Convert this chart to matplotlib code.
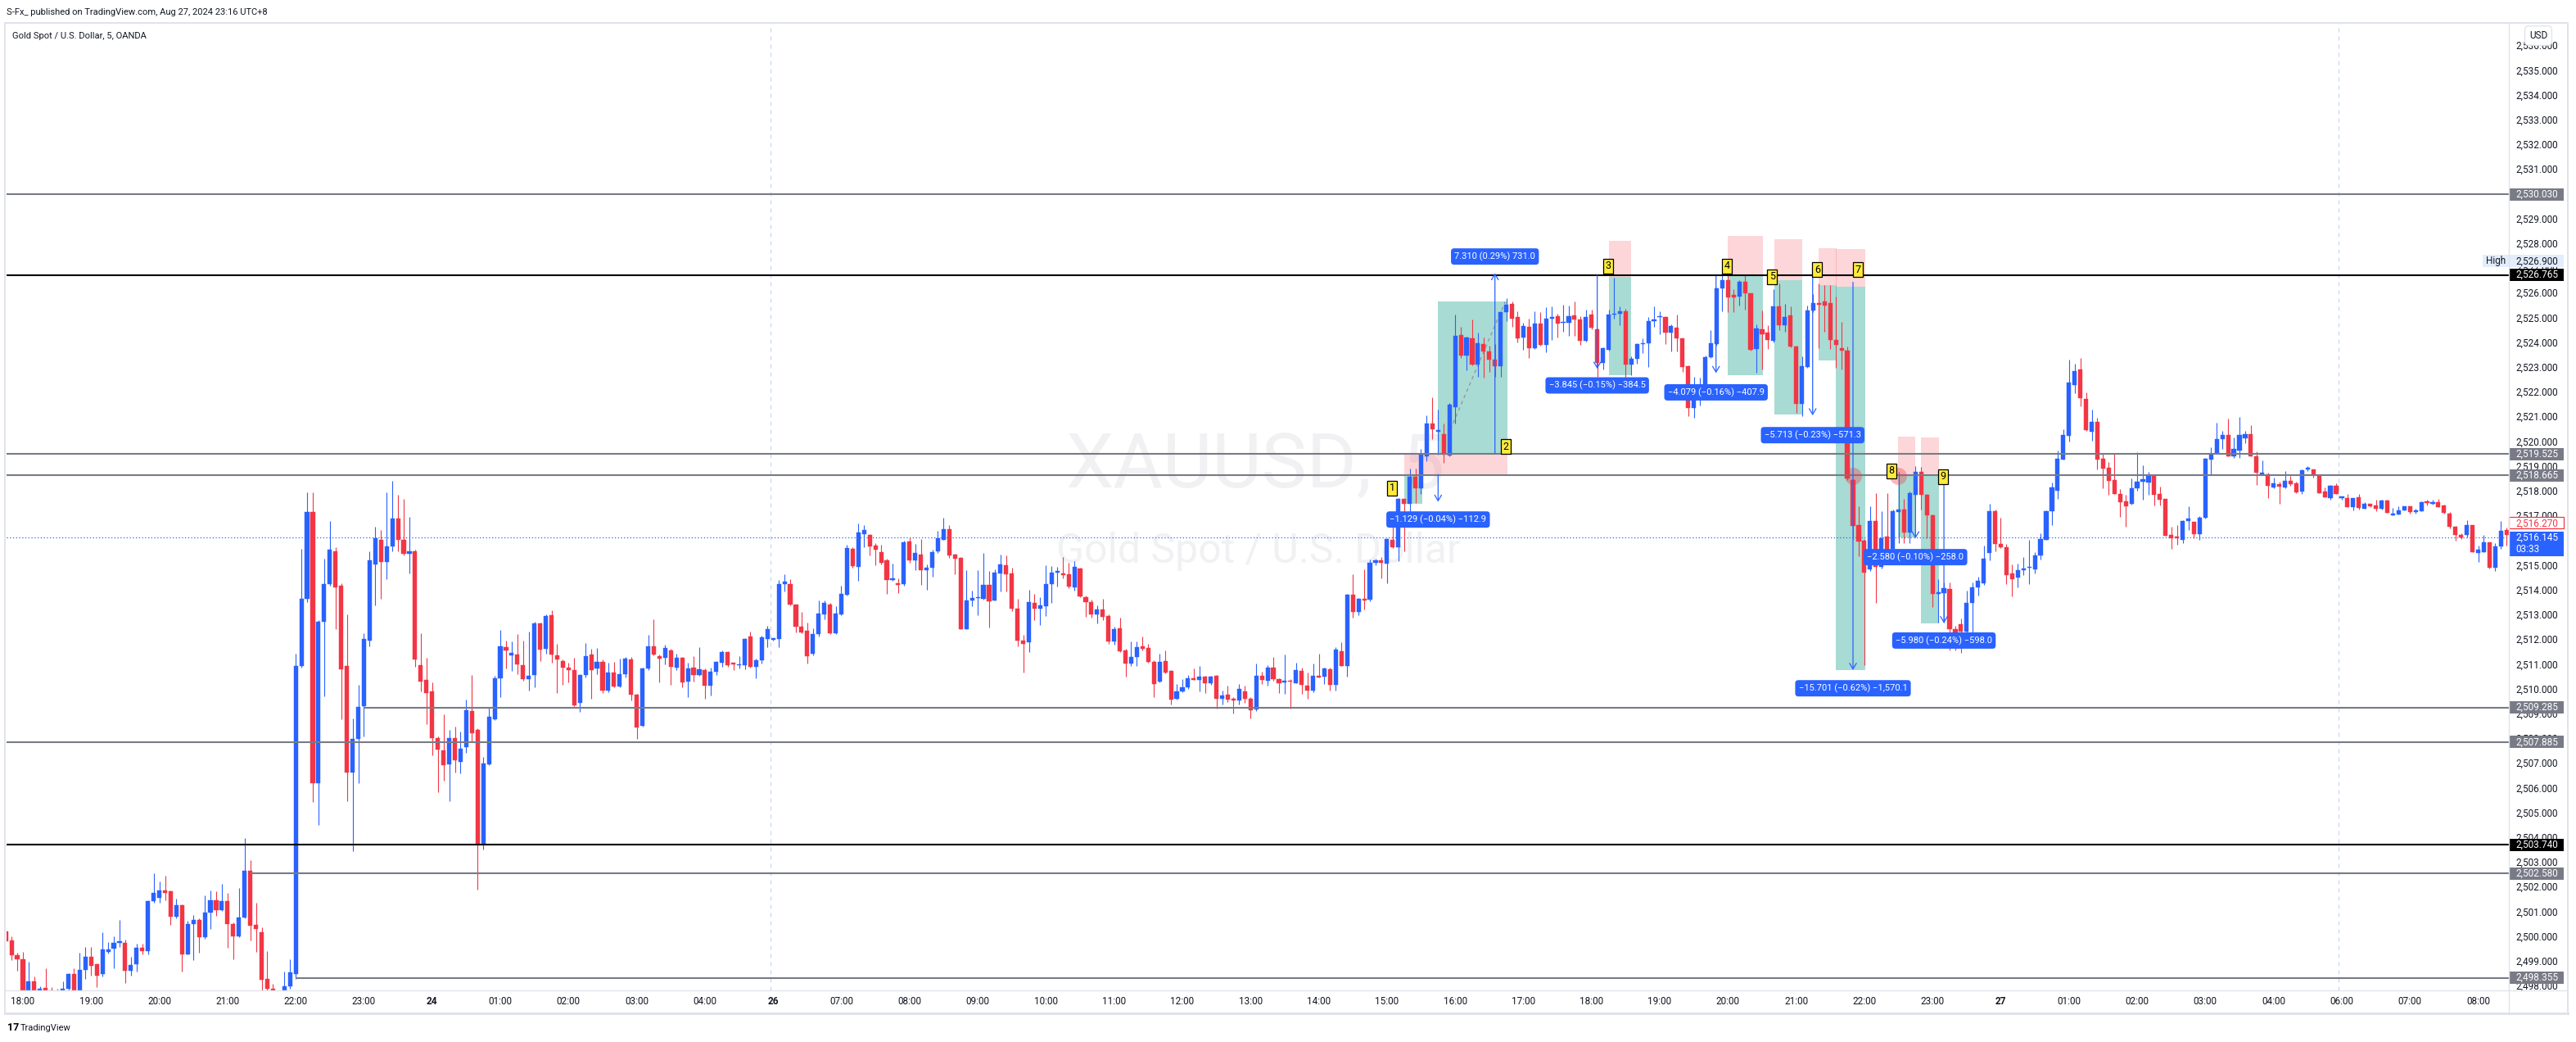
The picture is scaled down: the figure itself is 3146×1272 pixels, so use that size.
import matplotlib
matplotlib.use("Agg")
import matplotlib.pyplot as plt
from matplotlib.patches import Rectangle
from matplotlib.lines import Line2D

W, H, DPI = 3146, 1272, 100
plt.rcParams['font.family'] = ['Roboto', 'DejaVu Sans']

# ---------- XAUUSD 5m candles (bar 0 = Aug 23 18:00 UTC+8) ----------
first_bar = -3
opens = [
    2500.23, 2499.88, 2499.27,
    2499.10, 2497.70, 2498.20, 2497.80, 2497.95, 2497.85, 2497.70, 2497.50, 2497.90, 2498.50, 2497.80, 2498.67,
    2499.20, 2498.90, 2498.50, 2499.40, 2499.55, 2499.77, 2499.77, 2498.63, 2498.90, 2499.57, 2499.45, 2501.45,
    2501.60, 2501.90, 2501.87, 2500.82, 2501.29, 2499.30, 2500.52, 2500.70, 2500.00, 2501.00, 2501.48, 2501.10,
    2501.45, 2500.54, 2500.04, 2500.80, 2502.67, 2500.50, 2500.19, 2498.30, 2497.90, 2497.50, 2497.40, 2498.00,
    2498.50, 2510.96, 2513.68, 2517.19, 2506.23, 2512.76, 2514.26, 2515.58, 2514.19, 2510.96, 2506.65, 2508.00,
    2509.35, 2512.00, 2515.08, 2516.07, 2515.15, 2515.80, 2516.92, 2516.07, 2515.50, 2515.58, 2510.99, 2510.40,
    2509.93, 2508.04, 2507.55, 2507.00, 2508.04, 2507.10, 2507.67, 2509.13, 2508.37, 2503.76, 2507.00, 2508.80,
    2510.47, 2511.72, 2511.40, 2511.43, 2511.00, 2510.42, 2510.60, 2512.69, 2511.66, 2513.02, 2511.40, 2511.17,
    2510.90, 2510.81, 2509.47, 2510.60, 2511.43, 2510.85, 2511.14, 2509.96, 2510.68, 2510.13, 2510.63, 2511.24,
    2509.80, 2508.54, 2510.86, 2511.77, 2511.35, 2511.30, 2511.60, 2510.90, 2511.30, 2510.33, 2510.90, 2510.59,
    2510.81, 2510.16, 2510.74, 2511.08, 2511.53, 2511.06, 2511.00, 2511.00, 2512.16, 2510.92, 2511.20, 2512.06,
    2512.03, 2512.06, 2514.27, 2514.27, 2513.43, 2512.56, 2512.40, 2511.47, 2512.26, 2513.05, 2513.45, 2512.29,
    2513.05, 2513.83, 2515.70, 2514.97, 2516.29, 2516.25, 2515.82, 2515.56, 2515.23, 2514.44, 2514.27, 2514.27,
    2515.99, 2515.23, 2515.46, 2514.83, 2514.93, 2515.60, 2516.07, 2516.49, 2515.46, 2515.33, 2512.46, 2513.61,
    2513.71, 2513.68, 2514.24, 2513.61, 2514.70, 2515.03, 2514.70, 2513.28, 2511.99, 2511.92, 2513.50, 2513.29,
    2513.38, 2514.28, 2514.73, 2514.70, 2514.66, 2514.13, 2514.90, 2513.75, 2513.54, 2513.06, 2513.25, 2512.97,
    2511.96, 2512.49, 2511.60, 2511.06, 2511.33, 2511.76, 2511.70, 2511.14, 2510.32, 2511.16, 2510.76, 2509.64,
    2509.93, 2510.09, 2510.47, 2510.41, 2510.53, 2510.25, 2510.57, 2509.62, 2509.80, 2509.62, 2509.56, 2509.94,
    2509.65, 2509.20, 2510.57, 2510.38, 2510.88, 2510.43, 2510.30, 2510.38, 2510.28, 2510.76, 2510.15, 2509.96,
    2510.57, 2510.53, 2510.82, 2510.19, 2511.54, 2510.97, 2513.84, 2513.16, 2513.69, 2513.63, 2515.14, 2515.23,
    2515.10, 2516.06, 2515.75, 2517.70, 2517.50, 2518.62, 2518.15, 2519.44, 2520.76, 2520.42, 2520.32, 2519.46,
    2521.43, 2524.33, 2523.52, 2524.20, 2523.13, 2523.96, 2523.67, 2523.35, 2523.08, 2525.25, 2525.59, 2525.05,
    2524.24, 2524.68, 2523.80, 2524.80, 2523.95, 2525.00, 2525.10, 2524.83, 2524.83, 2525.12, 2524.95, 2524.10,
    2525.17, 2524.56, 2523.21, 2523.75, 2525.15, 2525.19, 2525.28, 2523.16, 2523.36, 2523.98, 2524.00, 2524.89,
    2525.07, 2525.07, 2524.45, 2524.62, 2524.19, 2523.07, 2521.39, 2521.97, 2522.30, 2523.45, 2523.98, 2526.21,
    2526.57, 2525.96, 2525.90, 2526.48, 2526.01, 2523.78, 2524.58, 2524.42, 2524.10, 2525.50, 2524.74, 2525.12,
    2523.87, 2521.56, 2523.05, 2525.33, 2525.63, 2525.68, 2525.63, 2524.13, 2523.82, 2523.72, 2518.47, 2516.67,
    2516.02, 2514.87, 2516.82, 2514.96, 2516.20, 2515.70, 2517.17, 2517.29, 2516.35, 2517.88, 2518.82, 2517.88,
    2517.06, 2513.87, 2513.90, 2514.08, 2512.46, 2512.64, 2512.34, 2513.52, 2514.13, 2514.29, 2515.52, 2517.23,
    2515.90, 2515.76, 2514.70, 2514.52, 2514.82, 2514.93, 2514.87, 2515.42, 2516.07, 2517.22, 2518.04, 2519.31,
    2520.26, 2522.33, 2522.93, 2521.77, 2520.43, 2520.84, 2519.33, 2518.97, 2518.47, 2517.91, 2517.61, 2517.51,
    2518.14, 2518.40, 2518.37, 2518.65, 2517.91, 2517.71, 2516.25, 2516.18, 2516.05, 2516.82, 2516.78, 2516.30,
    2516.95, 2519.31, 2519.55, 2520.12, 2520.29, 2519.44, 2519.66, 2520.15, 2520.32, 2519.42, 2518.72, 2518.72,
    2518.17, 2518.30, 2518.17, 2518.43, 2518.34, 2518.00, 2518.92, 2518.89, 2518.64, 2518.00, 2517.76, 2518.23,
    2517.74, 2517.74, 2517.38, 2517.77, 2517.33, 2517.50, 2517.45, 2517.32, 2517.65, 2517.06, 2517.10, 2517.26,
    2517.42, 2517.20, 2517.21, 2517.58, 2517.53, 2517.58, 2517.45, 2517.12, 2516.59, 2516.26, 2516.27, 2516.66,
    2515.52, 2515.57, 2515.95, 2514.95, 2515.81, 2516.45,
]
highs = [
    2500.40, 2500.04, 2499.37,
    2499.42, 2499.00, 2498.40, 2498.00, 2498.75, 2497.98, 2497.90, 2498.20, 2498.55, 2498.75, 2499.37, 2499.60,
    2499.60, 2498.95, 2500.20, 2499.80, 2500.04, 2500.70, 2499.90, 2499.20, 2499.75, 2499.75, 2501.50, 2502.60,
    2502.26, 2502.48, 2501.90, 2501.55, 2501.32, 2500.65, 2500.90, 2500.75, 2501.68, 2501.90, 2501.87, 2502.17,
    2501.80, 2500.60, 2502.00, 2504.02, 2503.12, 2501.40, 2500.40, 2499.45, 2498.10, 2497.80, 2498.60, 2499.10,
    2511.45, 2515.69, 2517.98, 2517.98, 2512.80, 2515.30, 2516.83, 2515.76, 2514.30, 2513.04, 2508.84, 2510.20,
    2512.30, 2515.60, 2516.60, 2516.45, 2517.98, 2518.44, 2517.87, 2517.70, 2516.98, 2515.65, 2512.30, 2511.30,
    2510.30, 2508.10, 2509.00, 2508.37, 2508.50, 2508.30, 2509.60, 2510.60, 2508.45, 2507.30, 2509.26, 2510.57,
    2512.43, 2512.00, 2511.96, 2512.26, 2512.00, 2512.36, 2512.75, 2512.72, 2513.05, 2513.22, 2511.86, 2511.24,
    2511.10, 2511.30, 2510.62, 2511.90, 2511.67, 2511.70, 2511.22, 2511.10, 2511.14, 2511.27, 2511.34, 2511.34,
    2509.85, 2510.90, 2512.23, 2512.85, 2511.43, 2511.83, 2511.67, 2511.47, 2511.34, 2511.10, 2511.37, 2511.73,
    2510.87, 2510.90, 2511.17, 2511.60, 2511.55, 2511.10, 2511.37, 2512.10, 2512.36, 2511.25, 2512.18, 2512.59,
    2512.08, 2514.43, 2514.67, 2514.47, 2513.45, 2513.15, 2512.72, 2512.49, 2513.61, 2513.61, 2513.50, 2513.38,
    2514.21, 2515.86, 2515.75, 2516.72, 2516.65, 2516.30, 2515.92, 2515.86, 2515.30, 2515.10, 2514.50, 2516.02,
    2516.16, 2515.89, 2516.09, 2515.07, 2515.66, 2516.42, 2516.95, 2516.65, 2515.50, 2515.38, 2514.83, 2514.01,
    2514.83, 2515.53, 2514.80, 2514.87, 2515.46, 2515.43, 2514.93, 2513.68, 2512.23, 2514.03, 2513.88, 2513.75,
    2515.04, 2514.99, 2514.97, 2515.36, 2515.14, 2515.21, 2514.95, 2513.80, 2513.65, 2513.40, 2513.69, 2513.06,
    2512.55, 2512.93, 2511.65, 2511.96, 2511.96, 2512.14, 2511.86, 2511.20, 2511.45, 2511.58, 2510.80, 2510.24,
    2510.43, 2510.60, 2510.85, 2510.97, 2510.56, 2510.56, 2510.60, 2509.96, 2510.15, 2509.70, 2510.24, 2510.15,
    2509.70, 2511.06, 2510.72, 2511.01, 2511.33, 2510.47, 2511.42, 2510.43, 2511.10, 2510.91, 2510.70, 2511.06,
    2511.45, 2510.91, 2510.91, 2511.71, 2511.92, 2513.86, 2514.66, 2513.70, 2514.86, 2515.27, 2515.30, 2515.36,
    2516.12, 2516.60, 2517.76, 2517.73, 2518.93, 2518.93, 2519.75, 2521.08, 2521.81, 2521.33, 2520.76, 2521.58,
    2525.18, 2524.68, 2524.28, 2524.96, 2524.45, 2524.24, 2523.92, 2523.98, 2525.30, 2525.82, 2525.69, 2525.31,
    2524.83, 2524.99, 2525.30, 2525.25, 2525.45, 2525.48, 2525.19, 2525.57, 2525.54, 2525.68, 2525.10, 2525.37,
    2525.37, 2524.60, 2523.84, 2525.37, 2526.66, 2525.48, 2525.40, 2523.48, 2524.01, 2524.19, 2525.07, 2525.48,
    2525.28, 2525.10, 2524.78, 2525.17, 2524.22, 2523.10, 2522.66, 2522.60, 2523.50, 2524.52, 2526.25, 2526.78,
    2526.80, 2526.19, 2526.54, 2526.78, 2526.04, 2524.78, 2525.33, 2524.72, 2526.20, 2526.43, 2525.60, 2525.48,
    2523.90, 2523.47, 2525.54, 2526.00, 2526.43, 2526.37, 2526.37, 2525.90, 2524.86, 2523.87, 2518.55, 2517.41,
    2516.10, 2517.41, 2517.94, 2517.23, 2517.94, 2517.30, 2518.82, 2517.70, 2518.00, 2519.04, 2519.00, 2517.90,
    2517.10, 2514.46, 2514.35, 2514.35, 2512.58, 2512.87, 2513.99, 2514.35, 2514.58, 2515.82, 2517.50, 2517.30,
    2516.94, 2515.90, 2515.05, 2515.09, 2515.35, 2516.06, 2515.57, 2516.33, 2517.26, 2518.37, 2519.66, 2520.52,
    2523.35, 2523.19, 2523.42, 2522.03, 2521.33, 2520.98, 2519.53, 2519.20, 2519.53, 2518.12, 2517.88, 2518.54,
    2519.59, 2519.07, 2518.81, 2518.71, 2518.21, 2517.71, 2516.60, 2516.66, 2516.85, 2517.42, 2516.78, 2517.02,
    2519.37, 2519.79, 2520.78, 2520.45, 2520.96, 2520.19, 2521.01, 2520.45, 2520.70, 2519.64, 2519.26, 2518.78,
    2518.58, 2518.41, 2518.83, 2518.64, 2518.41, 2518.91, 2519.05, 2518.89, 2518.69, 2518.17, 2518.28, 2518.36,
    2517.83, 2517.92, 2517.74, 2517.90, 2517.57, 2517.50, 2517.68, 2517.68, 2517.68, 2517.35, 2517.40, 2517.42,
    2517.42, 2517.33, 2517.60, 2517.68, 2517.68, 2517.71, 2517.49, 2517.18, 2516.63, 2516.34, 2516.85, 2516.66,
    2515.83, 2516.25, 2515.95, 2515.92, 2516.82, 2516.56,
]
lows = [
    2499.70, 2499.07, 2498.63,
    2497.60, 2497.50, 2497.50, 2497.60, 2497.60, 2497.50, 2497.30, 2497.30, 2497.70, 2497.60, 2497.70, 2498.30,
    2498.46, 2497.98, 2498.40, 2499.35, 2498.75, 2499.60, 2498.15, 2498.46, 2498.60, 2499.30, 2499.30, 2501.40,
    2501.40, 2501.50, 2500.50, 2500.76, 2498.60, 2499.30, 2499.07, 2499.36, 2499.95, 2500.33, 2500.85, 2501.05,
    2499.58, 2499.12, 2500.00, 2500.76, 2499.88, 2499.40, 2497.80, 2497.50, 2497.30, 2497.20, 2497.30, 2497.90,
    2498.30, 2510.90, 2513.54, 2505.48, 2504.54, 2509.75, 2514.20, 2512.46, 2508.80, 2505.51, 2503.47, 2506.23,
    2508.12, 2511.76, 2513.40, 2513.68, 2514.48, 2515.60, 2515.60, 2515.43, 2514.70, 2510.94, 2509.93, 2508.60,
    2507.35, 2505.86, 2506.34, 2505.50, 2506.65, 2506.62, 2507.45, 2507.87, 2501.93, 2503.54, 2506.95, 2508.76,
    2509.70, 2510.87, 2510.75, 2510.64, 2510.36, 2509.96, 2510.10, 2511.15, 2511.45, 2511.08, 2509.88, 2510.20,
    2510.30, 2509.33, 2509.10, 2510.50, 2509.63, 2510.64, 2509.87, 2509.90, 2510.10, 2510.10, 2510.50, 2509.57,
    2508.00, 2508.50, 2510.80, 2511.38, 2510.29, 2511.04, 2510.21, 2510.80, 2510.09, 2509.70, 2510.33, 2510.55,
    2509.63, 2509.76, 2510.60, 2510.92, 2510.92, 2510.79, 2510.85, 2510.82, 2510.90, 2510.45, 2511.07, 2511.73,
    2512.00, 2511.73, 2513.98, 2513.40, 2512.33, 2512.30, 2511.07, 2511.40, 2512.16, 2512.85, 2512.25, 2512.25,
    2513.00, 2513.80, 2514.93, 2514.41, 2515.76, 2515.43, 2515.03, 2515.07, 2513.88, 2514.40, 2513.90, 2514.22,
    2515.13, 2514.83, 2514.24, 2514.04, 2514.57, 2515.53, 2516.05, 2515.33, 2514.67, 2512.44, 2512.44, 2513.38,
    2513.02, 2513.65, 2512.52, 2513.60, 2513.98, 2513.98, 2513.18, 2511.77, 2510.68, 2511.53, 2512.80, 2512.61,
    2512.98, 2513.50, 2514.16, 2514.51, 2514.11, 2514.00, 2513.75, 2512.96, 2512.90, 2512.68, 2512.80, 2511.86,
    2511.83, 2511.52, 2510.53, 2510.97, 2510.97, 2511.60, 2511.10, 2509.71, 2510.30, 2510.65, 2509.40, 2509.60,
    2509.90, 2510.05, 2510.40, 2509.93, 2509.86, 2510.20, 2509.24, 2509.40, 2509.52, 2509.04, 2509.40, 2509.48,
    2508.83, 2509.15, 2510.24, 2510.15, 2510.38, 2509.88, 2509.85, 2509.24, 2510.25, 2509.84, 2509.65, 2509.90,
    2510.50, 2510.22, 2509.96, 2509.96, 2510.97, 2510.53, 2512.93, 2513.00, 2513.25, 2513.56, 2515.02, 2514.49,
    2514.32, 2515.73, 2515.20, 2515.60, 2517.16, 2517.54, 2517.92, 2519.25, 2520.13, 2519.50, 2519.18, 2519.44,
    2520.76, 2523.42, 2522.91, 2523.10, 2522.66, 2522.60, 2522.85, 2522.66, 2522.66, 2524.91, 2524.68, 2524.05,
    2523.73, 2523.42, 2523.77, 2523.90, 2523.63, 2524.13, 2524.25, 2524.48, 2524.30, 2524.30, 2523.93, 2524.07,
    2524.58, 2522.66, 2522.95, 2523.70, 2525.01, 2524.72, 2522.60, 2522.71, 2523.19, 2523.60, 2523.04, 2524.66,
    2524.36, 2523.98, 2523.66, 2523.66, 2522.83, 2521.06, 2520.98, 2521.50, 2522.25, 2523.42, 2523.90, 2525.28,
    2525.25, 2525.25, 2525.54, 2525.37, 2523.72, 2522.80, 2522.95, 2523.77, 2524.05, 2524.54, 2524.48, 2523.83,
    2521.18, 2521.06, 2523.00, 2525.25, 2523.80, 2524.48, 2523.77, 2523.00, 2522.95, 2518.47, 2516.10, 2515.40,
    2511.00, 2514.80, 2513.50, 2514.90, 2515.35, 2515.60, 2515.94, 2515.94, 2515.94, 2517.82, 2517.29, 2516.11,
    2513.34, 2512.70, 2512.70, 2511.58, 2511.58, 2511.50, 2512.10, 2512.23, 2513.81, 2514.25, 2515.23, 2515.58,
    2515.72, 2514.28, 2513.76, 2514.13, 2514.62, 2514.27, 2514.71, 2515.26, 2516.07, 2516.67, 2517.71, 2519.31,
    2520.02, 2522.00, 2521.44, 2520.45, 2520.08, 2518.91, 2518.15, 2517.88, 2517.90, 2517.00, 2516.60, 2517.48,
    2518.04, 2517.68, 2517.88, 2517.46, 2517.46, 2516.23, 2515.68, 2515.86, 2515.92, 2516.47, 2516.12, 2516.07,
    2516.91, 2518.69, 2519.55, 2519.74, 2519.44, 2519.38, 2519.37, 2519.97, 2519.42, 2518.28, 2518.72, 2517.76,
    2518.15, 2517.51, 2518.15, 2518.23, 2517.95, 2517.92, 2518.84, 2518.58, 2517.95, 2517.79, 2517.68, 2517.92,
    2517.68, 2517.38, 2517.26, 2517.30, 2517.33, 2517.37, 2517.21, 2517.28, 2517.16, 2517.06, 2517.10, 2517.26,
    2517.11, 2517.11, 2517.21, 2517.46, 2517.49, 2517.39, 2517.12, 2516.52, 2516.01, 2516.08, 2516.16, 2515.55,
    2515.18, 2515.57, 2514.91, 2514.80, 2515.68, 2515.83,
]
closes = [
    2499.82, 2499.27, 2499.10,
    2497.70, 2498.20, 2497.80, 2497.90, 2497.85, 2497.70, 2497.50, 2497.90, 2498.50, 2497.80, 2498.67, 2499.20,
    2498.84, 2498.43, 2499.50, 2499.50, 2499.77, 2499.85, 2498.63, 2498.88, 2499.57, 2499.45, 2501.45, 2501.79,
    2501.90, 2501.80, 2500.82, 2501.29, 2499.30, 2500.52, 2500.70, 2500.00, 2501.00, 2501.48, 2501.10, 2501.45,
    2500.54, 2500.02, 2500.79, 2502.67, 2500.48, 2500.34, 2498.29, 2497.90, 2497.50, 2497.40, 2498.00, 2498.58,
    2510.96, 2513.68, 2517.19, 2506.23, 2512.76, 2514.26, 2515.65, 2514.13, 2510.83, 2506.65, 2508.00, 2509.30,
    2512.05, 2515.22, 2516.11, 2515.15, 2515.80, 2516.92, 2516.07, 2515.48, 2515.60, 2511.23, 2510.33, 2509.88,
    2508.04, 2507.57, 2506.94, 2508.04, 2507.15, 2507.62, 2509.16, 2508.23, 2503.73, 2507.02, 2508.92, 2510.47,
    2511.75, 2511.60, 2511.50, 2511.04, 2510.42, 2510.57, 2512.69, 2511.61, 2512.99, 2511.41, 2511.24, 2510.89,
    2510.79, 2509.36, 2510.58, 2511.37, 2510.79, 2511.14, 2509.96, 2510.68, 2510.13, 2510.63, 2511.27, 2509.80,
    2508.48, 2510.86, 2511.77, 2511.41, 2511.26, 2511.69, 2510.92, 2511.30, 2510.29, 2510.87, 2510.59, 2510.84,
    2510.16, 2510.74, 2511.11, 2511.53, 2511.00, 2511.04, 2511.04, 2512.06, 2510.92, 2511.20, 2512.13, 2512.46,
    2512.05, 2514.27, 2514.37, 2513.43, 2512.54, 2512.33, 2511.37, 2512.26, 2513.08, 2513.51, 2512.29, 2513.08,
    2513.88, 2515.73, 2515.00, 2516.35, 2516.45, 2515.79, 2515.66, 2515.13, 2514.44, 2514.50, 2514.25, 2515.96,
    2515.23, 2515.53, 2514.83, 2514.93, 2515.56, 2516.12, 2516.49, 2515.43, 2515.30, 2512.46, 2513.61, 2513.71,
    2513.74, 2514.24, 2513.58, 2514.73, 2515.07, 2514.67, 2513.28, 2511.99, 2511.87, 2513.54, 2513.29, 2513.40,
    2514.28, 2514.73, 2514.80, 2514.65, 2514.16, 2514.98, 2513.79, 2513.54, 2513.06, 2513.25, 2512.96, 2511.96,
    2512.46, 2511.54, 2511.06, 2511.33, 2511.73, 2511.64, 2511.14, 2510.22, 2511.14, 2510.70, 2509.61, 2509.93,
    2510.09, 2510.47, 2510.41, 2510.53, 2510.25, 2510.53, 2509.62, 2509.77, 2509.60, 2509.56, 2510.03, 2509.65,
    2509.18, 2510.57, 2510.41, 2510.88, 2510.43, 2510.28, 2510.35, 2510.32, 2510.79, 2510.19, 2509.96, 2510.56,
    2510.50, 2510.85, 2510.19, 2511.61, 2510.97, 2513.85, 2513.16, 2513.69, 2513.60, 2515.14, 2515.23, 2515.14,
    2516.09, 2515.75, 2517.73, 2517.50, 2518.62, 2518.15, 2519.50, 2520.76, 2520.54, 2520.48, 2519.50, 2521.52,
    2524.30, 2523.52, 2524.24, 2523.13, 2524.01, 2523.67, 2523.35, 2523.08, 2525.25, 2525.56, 2524.99, 2524.21,
    2524.70, 2523.80, 2524.81, 2523.95, 2525.01, 2525.07, 2524.81, 2524.86, 2525.11, 2524.95, 2524.10, 2525.05,
    2524.62, 2523.21, 2523.80, 2525.15, 2525.19, 2525.31, 2523.16, 2523.36, 2523.98, 2524.00, 2524.89, 2524.95,
    2525.10, 2524.45, 2524.70, 2524.21, 2523.04, 2521.39, 2521.97, 2522.30, 2523.45, 2524.01, 2526.21, 2526.54,
    2525.86, 2525.86, 2526.48, 2526.01, 2523.75, 2524.60, 2524.36, 2524.15, 2525.50, 2524.74, 2525.07, 2523.87,
    2521.54, 2523.07, 2525.33, 2525.64, 2525.57, 2525.54, 2524.13, 2523.95, 2523.72, 2518.53, 2516.61, 2516.00,
    2514.72, 2516.82, 2514.96, 2516.11, 2515.40, 2517.23, 2517.29, 2516.35, 2517.94, 2518.82, 2517.88, 2517.06,
    2513.87, 2513.93, 2514.11, 2512.44, 2512.22, 2512.34, 2513.52, 2514.13, 2514.40, 2515.31, 2517.23, 2515.88,
    2515.76, 2514.64, 2514.46, 2514.84, 2514.90, 2514.95, 2515.42, 2516.08, 2517.22, 2518.17, 2519.33, 2520.29,
    2522.40, 2522.89, 2521.78, 2520.48, 2520.84, 2519.31, 2518.94, 2518.45, 2517.90, 2517.59, 2517.43, 2518.14,
    2518.40, 2518.50, 2518.69, 2517.89, 2517.69, 2516.23, 2516.14, 2516.14, 2516.82, 2516.93, 2516.30, 2516.95,
    2519.33, 2519.55, 2520.12, 2520.29, 2519.44, 2519.74, 2520.29, 2520.32, 2519.42, 2518.78, 2518.78, 2518.23,
    2518.36, 2518.20, 2518.43, 2518.31, 2517.99, 2518.87, 2518.93, 2518.66, 2517.95, 2517.79, 2518.23, 2517.92,
    2517.80, 2517.38, 2517.74, 2517.35, 2517.51, 2517.40, 2517.33, 2517.65, 2517.16, 2517.12, 2517.26, 2517.42,
    2517.17, 2517.24, 2517.58, 2517.56, 2517.58, 2517.39, 2517.14, 2516.60, 2516.27, 2516.17, 2516.67, 2515.55,
    2515.67, 2515.95, 2514.95, 2515.81, 2516.42, 2516.27,
]

# time axis (bar index of each label)
time_labels = ["18:00", "19:00", "20:00", "21:00", "22:00", "23:00", "24", "01:00", "02:00", "03:00", "04:00",
               "26", "07:00", "08:00", "09:00", "10:00", "11:00", "12:00", "13:00", "14:00", "15:00", "16:00",
               "17:00", "18:00", "19:00", "20:00", "21:00", "22:00", "23:00", "27", "01:00", "02:00", "03:00",
               "04:00", "06:00", "07:00", "08:00"]
time_label_bars = [0, 12, 24, 36, 48, 60, 72, 84, 96, 108, 120, 132, 144, 156, 168, 180, 192, 204, 216, 228,
                   240, 252, 264, 276, 288, 300, 312, 324, 336, 348, 360, 372, 384, 396, 408, 420, 432]
session_breaks = [131.5, 407.5]

# horizontal levels drawn on the chart
level_prices = [2530.030, 2526.765, 2519.525, 2518.665, 2509.285, 2507.885, 2503.740, 2502.580, 2498.355]
level_black = [False, True, False, False, False, False, True, False, False]
level_start = [-3, -3, -3, -3, 60, -3, -3, 40, 48]

high_price = 2526.900
last_close = 2516.270
bid_price = 2516.145
countdown = "03:33"

# position tools 1..9 (bar range, entry / stop / target prices)
tool_left = [243.0, 249.0, 279.1, 300.0, 308.1, 315.9, 319.0, 329.9, 333.9]
tool_right = [246.2, 261.2, 283.0, 306.1, 313.0, 319.1, 324.1, 333.0, 337.1]
stop_right = [249.0, 261.2, 283.0, 306.1, 313.0, 319.1, 324.1, 333.0, 337.1]
tool_entry = [2518.70, 2519.50, 2526.69, 2526.72, 2526.55, 2526.36, 2526.30, 2518.70, 2518.65]
tool_stop = [2519.50, 2518.70, 2528.15, 2528.35, 2528.20, 2527.86, 2527.80, 2520.23, 2520.20]
tool_target = [2517.53, 2525.70, 2522.70, 2522.73, 2521.14, 2523.30, 2510.80, 2516.17, 2512.69]

tag_text = ["1", "2", "3", "4", "5", "6", "7", "8", "9"]
tag_bar = [240.9, 260.9, 278.9, 299.8, 307.8, 315.7, 322.8, 328.8, 337.8]
tag_price = [2518.16, 2519.82, 2527.13, 2527.12, 2526.70, 2526.98, 2526.97, 2518.85, 2518.62]

meas_text = ["\u22121.129 (\u22120.04%) \u2212112.9", "7.310 (0.29%) 731.0",
             "\u22123.845 (\u22120.15%) \u2212384.5", "\u22124.079 (\u22120.16%) \u2212407.9",
             "\u22125.713 (\u22120.23%) \u2212571.3", "\u221215.701 (\u22120.62%) \u22121,570.1",
             "\u22122.580 (\u22120.10%) \u2212258.0", "\u22125.980 (\u22120.24%) \u2212598.0"]
meas_bar = [249.0, 259.0, 277.0, 297.9, 314.9, 322.0, 333.0, 338.0]
meas_label_price = [2516.88, 2527.51, 2522.30, 2522.02, 2520.29, 2510.06, 2515.36, 2511.99]
meas_from = [2518.70, 2519.55, 2526.75, 2526.72, 2526.76, 2526.47, 2518.70, 2518.60]
meas_to = [2517.60, 2526.84, 2522.97, 2522.80, 2521.09, 2510.80, 2516.12, 2512.69]

circle_bar = [322.0, 329.9]
circle_price = [2518.65, 2518.65]

UP, DOWN = "#2962ff", "#f23645"
GRAY, BORDER, TXT = "#787b86", "#e0e3eb", "#131722"

# ---------- layout (pixels) ----------
AX_L, AX_R, AX_T, AX_B = 8, 3064, 28, 1209
YMIN, YMAX = 2497.85, 2536.95
XMIN, XMAX = -2.88, 437.4
PPX = (AX_B - AX_T) / (YMAX - YMIN)   # pixels per price unit

fig = plt.figure(figsize=(W / DPI, H / DPI), dpi=DPI)
fig.patch.set_facecolor("white")
ax = fig.add_axes([AX_L / W, 1 - AX_B / H, (AX_R - AX_L) / W, (AX_B - AX_T) / H])
ax.set_xlim(XMIN, XMAX)
ax.set_ylim(YMIN, YMAX)
ax.set_axis_off()


def ax_x(px):
    return (px - AX_L) / (AX_R - AX_L)


def fig_line(x0, y0, x1, y1, color=BORDER, lw=1.0):
    fig.add_artist(Line2D([x0 / W, x1 / W], [1 - y0 / H, 1 - y1 / H], transform=fig.transFigure,
                          color=color, lw=lw))


# watermark (split so the "1" tag sits in the gap, as in the original)
WM = "#f1f1f3"
ax.text(237.3, 2518.99, "XAUUSD,", fontsize=67, color=WM, ha="right", va="center", zorder=0.5)
ax.text(246.3, 2518.99, "5", fontsize=67, color=WM, ha="center", va="center", zorder=0.5)
ax.text(217.4, 2515.59, "Gold Spot / U.S. Dollar", fontsize=36, color=WM, ha="center", va="center",
        zorder=0.5)

for xb in session_breaks:
    ax.axvline(xb, color="#c9d6ee", ls=(0, (4, 4)), lw=0.9, zorder=0.8)

# position tools
for i in range(len(tool_left)):
    e, s, t = tool_entry[i], tool_stop[i], tool_target[i]
    ax.add_patch(Rectangle((tool_left[i], min(e, s)), stop_right[i] - tool_left[i], abs(s - e),
                           facecolor=(242 / 255, 54 / 255, 69 / 255, 0.2), edgecolor="none", zorder=1))
    ax.add_patch(Rectangle((tool_left[i], min(e, t)), tool_right[i] - tool_left[i], abs(t - e),
                           facecolor=(8 / 255, 153 / 255, 129 / 255, 0.35), edgecolor="none", zorder=1))
# price path inside tool 2
ax.plot([250.7, 260.8], [2520.27, 2525.68], color="#9598a1", ls=(0, (3, 3)), lw=1.0, zorder=1.5)

ax.axhline(bid_price, color=UP, ls=(0, (1, 2)), lw=0.9, zorder=2)

# candles
n = min(len(opens), len(highs), len(lows), len(closes))
for i in range(n):
    x = first_bar + i
    o, h, l, c = opens[i], highs[i], lows[i], closes[i]
    col = UP if c >= o else DOWN
    ax.vlines(x, l, h, color=col, lw=0.8, zorder=3)
    ax.add_patch(Rectangle((x - 0.37, min(o, c)), 0.74, max(abs(c - o), 0.04),
                           facecolor=col, edgecolor=col, lw=0.3, zorder=3))

# horizontal levels
for p, blk, st in zip(level_prices, level_black, level_start):
    ax.hlines(p, st, XMAX, color="black" if blk else GRAY, lw=1.5, zorder=4)

# red highlight circles
ax.plot(circle_bar, circle_price, "o", ms=15, color=DOWN, alpha=0.35, mec="none", zorder=4.5)

# measurement arrows + labels
for k, p0, p1, lp, t in zip(meas_bar, meas_from, meas_to, meas_label_price, meas_text):
    ax.annotate("", xy=(k, p1), xytext=(k, p0),
                arrowprops=dict(arrowstyle="->,head_length=0.5,head_width=0.3", color=UP, lw=0.9,
                                shrinkA=0, shrinkB=0), zorder=5)
    ax.text(k, lp, t, ha="center", va="center", color="white", fontsize=8, zorder=7,
            bbox=dict(boxstyle="round,pad=0.38,rounding_size=0.35", fc=UP, ec="none"))

for t, k, p in zip(tag_text, tag_bar, tag_price):
    ax.text(k, p, t, ha="center", va="center", color="black", fontsize=9, zorder=7,
            bbox=dict(boxstyle="square,pad=0.2", fc="#ffeb3b", ec="black", lw=0.9))

# ---------- price axis ----------
ytr = ax.get_yaxis_transform()
for p in range(2498, 2537):
    ax.text(ax_x(3072), p, f"{p:,}.000", transform=ytr, ha="left", va="center", fontsize=8.5,
            color=TXT, clip_on=False, zorder=8)


def axis_box(price, text, fc, tc, x0=3064.5, x1=3131, h=15, dy=0.0, ec="none", second=None):
    yc = price + dy / PPX
    top = yc + 7.5 / PPX
    bot = yc - (h - 7.5) / PPX
    ax.add_patch(Rectangle((ax_x(x0), bot), ax_x(x1) - ax_x(x0), top - bot, transform=ytr, facecolor=fc,
                           edgecolor=ec, lw=0.9, clip_on=False, zorder=9))
    ax.text(ax_x(3072), yc, text, transform=ytr, ha="left", va="center", fontsize=8.5, color=tc,
            clip_on=False, zorder=10)
    if second:
        ax.text(ax_x(3072), yc - 14 / PPX, second, transform=ytr, ha="left", va="center", fontsize=8.5,
                color=tc, clip_on=False, zorder=10)


for p, blk in zip(level_prices, level_black):
    axis_box(p, f"{p:,.3f}", "black" if blk else GRAY, "white")
axis_box(high_price, f"{high_price:,.3f}", "#e3edfb", TXT, x0=3031.5, dy=12.7)
ax.text(ax_x(3036), high_price + 12.7 / PPX, "High", transform=ytr, ha="left", va="center", fontsize=8.5,
        color=TXT, clip_on=False, zorder=10)
axis_box(last_close, f"{last_close:,.3f}", "white", DOWN, dy=13.8, h=14, ec=DOWN)
axis_box(bid_price, f"{bid_price:,.3f}", UP, "white", h=30, second=countdown)

# ---------- time axis ----------
xtr = ax.get_xaxis_transform()
for lab, k in zip(time_labels, time_label_bars):
    day = ":" not in lab
    ax.text(k, -(1222.7 - AX_B) / (AX_B - AX_T), lab, transform=xtr, ha="center", va="center",
            fontsize=8.5, color=TXT, fontweight="bold" if day else "normal", clip_on=False)

# ---------- frame, header, footer ----------
fig_line(6, 28, 3136, 28, lw=1.4)
fig_line(6, 28, 6, 1237, lw=1.4)
fig_line(3136, 28, 3136, 1237, lw=1.4)
fig_line(6, 1237, 3136, 1237, lw=2.2)
fig_line(AX_R, 28, AX_R, 1237)
fig_line(6, AX_B, 3136, AX_B)

fig.text(3100 / W, 1 - 43.5 / H, "USD", ha="center", va="center", fontsize=8.5, color=TXT,
         bbox=dict(boxstyle="round,pad=0.45,rounding_size=0.4", fc="white", ec=BORDER, lw=0.9), zorder=12)
fig.text(8 / W, 1 - 15 / H, "S-Fx_ published on TradingView.com, Aug 27, 2024 23:16 UTC+8", ha="left",
         va="center", fontsize=8, color=TXT)
fig.text(15 / W, 1 - 44 / H, "Gold Spot / U.S. Dollar, 5, OANDA", ha="left", va="center", fontsize=8,
         color=TXT)
fig.text(9 / W, 1 - 1255 / H, "17", ha="left", va="center", fontsize=9, fontweight="bold", color="black")
fig.text(25 / W, 1 - 1255 / H, "TradingView", ha="left", va="center", fontsize=8, color=TXT)

fig.savefig("out.png", dpi=DPI, facecolor="white")
